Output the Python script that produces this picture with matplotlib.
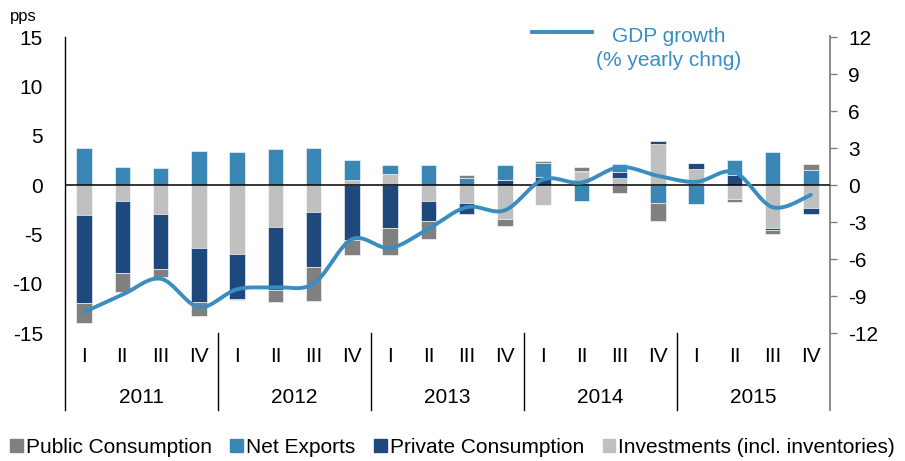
import numpy as np
import matplotlib
matplotlib.use("Agg")
import matplotlib.pyplot as plt
from matplotlib.patches import Patch
from matplotlib.lines import Line2D

plt.rcParams['font.family'] = ['Liberation Sans', 'DejaVu Sans']
plt.rcParams['axes.unicode_minus'] = False

years = ["2011", "2012", "2013", "2014", "2015"]
quarters = ["I", "II", "III", "IV"]

public_cons = [-2.0, -1.9, -0.8, -1.45, -0.15, -1.3, -3.45, -1.5, -2.7, -1.9,
               0.3, -0.75, 0.15, 0.35, -0.8, -1.8, 0.0, -0.25, -0.4, 0.6]
net_exports = [3.8, 1.8, 1.7, 3.4, 3.3, 3.6, 3.7, 2.0, 0.9, 2.0,
               0.75, 1.5, 1.45, -1.6, 0.8, -1.8, -1.9, 1.5, 3.3, 1.5]
private_cons = [-9.0, -7.3, -5.6, -5.45, -4.55, -6.3, -5.6, -5.55, -4.4, -2.0,
                -1.15, 0.55, 0.8, 0.1, 0.55, 0.3, 0.6, 1.05, -0.2, -0.6]
investments = [-3.0, -1.6, -2.9, -6.4, -7.0, -4.3, -2.7, 0.5, 1.1, -1.6,
               -1.8, -3.4, -2.0, 1.35, 0.75, 4.2, 1.6, -1.45, -4.4, -2.3]
gdp_growth = [-10.3, -8.9, -7.6, -9.9, -8.45, -8.3, -8.0, -4.4, -5.1, -3.55,
              -1.8, -2.05, 0.45, 0.2, 1.45, 0.75, 0.25, 1.05, -1.8, -0.8]

c_pub = "#808080"
c_nx = "#3A87B6"
c_priv = "#1F497D"
c_inv = "#C0C0C0"
c_line = "#3A8DC0"

W, H = 905, 461
fig = plt.figure(figsize=(W / 100, H / 100), dpi=100)
L, R, T, B = 65, 830, 37, 333
ax = fig.add_axes([L / W, 1 - B / H, (R - L) / W, (B - T) / H])

n = len(gdp_growth)
x = np.arange(n)
# stacking order from zero outward: investments, private, net exports, public
series = [(investments, c_inv), (private_cons, c_priv), (net_exports, c_nx), (public_cons, c_pub)]
pos = np.zeros(n)
neg = np.zeros(n)
for vals, col in series:
    v = np.array(vals, dtype=float)
    bottoms = np.where(v >= 0, pos, neg)
    ax.bar(x, v, bottom=bottoms, width=0.4, color=col, edgecolor="white", linewidth=0.4, zorder=2)
    pos = np.where(v >= 0, pos + v, pos)
    neg = np.where(v < 0, neg + v, neg)

ax.set_xlim(-0.5, n - 0.5)
ax.set_ylim(-15, 15)
ax.set_yticks([-15, -10, -5, 0, 5, 10, 15])
ax.tick_params(axis='y', length=0, labelsize=15, pad=16)
ax.set_xticks([])
for s in ax.spines.values():
    s.set_visible(False)
ax.axhline(0, color="black", lw=1.1, zorder=3)
ax.patch.set_alpha(0)

ax2 = ax.twinx()
ax2.set_ylim(-12, 12)
ax2.set_yticks([-12, -9, -6, -3, 0, 3, 6, 9, 12])
ax2.tick_params(axis='y', length=5, width=1, color="#808080", labelsize=15, pad=8, direction='out')
for s in ax2.spines.values():
    s.set_visible(False)

# smooth line (Excel-like Bezier through the points)
g = np.array(gdp_growth, dtype=float)
xs, ys = [], []
for i in range(n - 1):
    p0 = np.array([x[i - 1] if i > 0 else x[i], g[i - 1] if i > 0 else g[i]])
    p1 = np.array([x[i], g[i]])
    p2 = np.array([x[i + 1], g[i + 1]])
    p3 = np.array([x[i + 2] if i + 2 < n else x[i + 1], g[i + 2] if i + 2 < n else g[i + 1]])
    c1 = p1 + (p2 - p0) / 6
    c2 = p2 - (p3 - p1) / 6
    t = np.linspace(0, 1, 30)[:, None]
    pts = (1 - t) ** 3 * p1 + 3 * (1 - t) ** 2 * t * c1 + 3 * (1 - t) * t ** 2 * c2 + t ** 3 * p2
    xs.extend(pts[:, 0]); ys.extend(pts[:, 1])
ax2.plot(xs, ys, color=c_line, lw=2.8, solid_capstyle='round', zorder=5)

# axis lines extended down through category labels
bot = -(410 - B) / (B - T)
ax.plot([0, 0], [1, bot], transform=ax.transAxes, color="black", lw=1, clip_on=False)
ax.plot([1, 1], [1.005, bot], transform=ax.transAxes, color="#808080", lw=1.3, clip_on=False)
for k in range(1, len(years)):
    xb = 4 * k - 0.5
    ax.plot([xb, xb], [0, bot], transform=ax.get_xaxis_transform(), color="black", lw=1, clip_on=False)

trans = ax.get_xaxis_transform()
yq = -(356 - B) / (B - T)
yy = -(397 - B) / (B - T)
for i in range(n):
    ax.text(x[i], yq, quarters[i % 4], transform=trans, ha='center', va='center', fontsize=15)
for k, yr in enumerate(years):
    ax.text(4 * k + 1.5, yy, yr, transform=trans, ha='center', va='center', fontsize=15)

fig.text(10 / W, 1 - 16 / H, "pps", fontsize=12, ha='left', va='center')

# GDP legend
fig.add_artist(Line2D([532 / W, 592 / W], [1 - 32 / H, 1 - 32 / H], color=c_line, lw=2.8))
fig.text(669 / W, 1 - 37 / H, "GDP growth", color=c_line, fontsize=15, ha='center', va='center')
fig.text(669 / W, 1 - 61 / H, "(% yearly chng)", color=c_line, fontsize=15, ha='center', va='center')

handles = [Patch(color=c_pub, label="Public Consumption"),
           Patch(color=c_nx, label="Net Exports"),
           Patch(color=c_priv, label="Private Consumption"),
           Patch(color=c_inv, label="Investments (incl. inventories)")]
fig.legend(handles=handles, loc='center', bbox_to_anchor=(0.5, 1 - 447 / H), ncol=4,
           frameon=False, fontsize=15, handlelength=0.6, handleheight=0.6,
           handletextpad=0.15, columnspacing=0.9, borderaxespad=0)

fig.savefig("out.png", dpi=100)
